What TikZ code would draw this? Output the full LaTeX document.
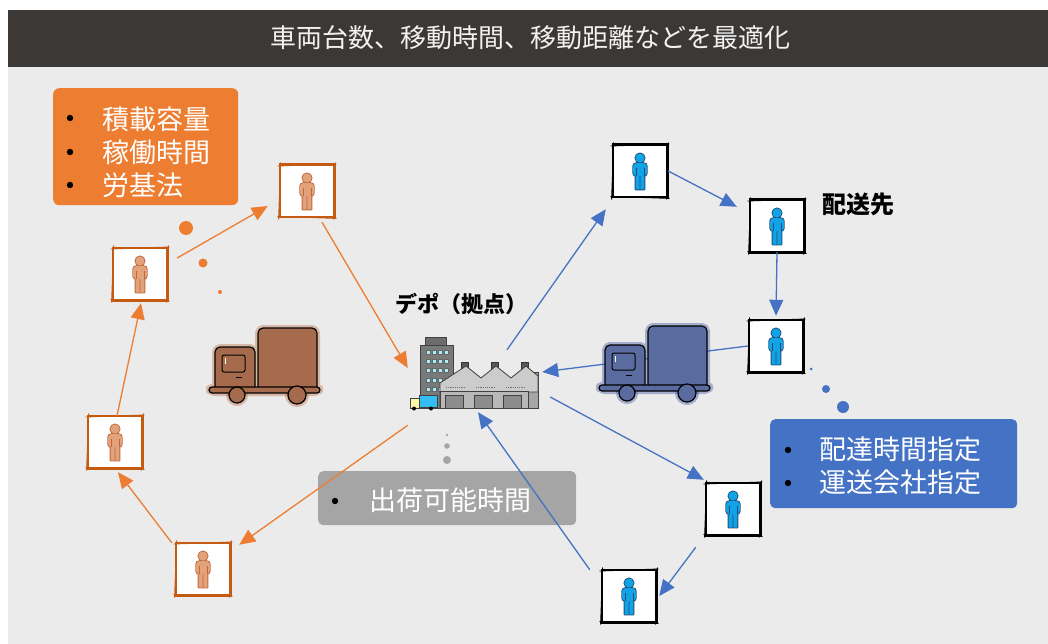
\documentclass[tikz,border=0pt]{standalone}
\usepackage{fontspec}
\setmainfont{Noto Sans CJK JP}
\usetikzlibrary{arrows.meta,calc}

\definecolor{hdr}{HTML}{3B3836}
\definecolor{hdrtext}{HTML}{F2F2F2}
\definecolor{panel}{HTML}{EBEBEB}
\definecolor{orng}{HTML}{ED7D31}
\definecolor{orngdk}{HTML}{C55A11}
\definecolor{blu}{HTML}{4472C4}
\definecolor{gry}{HTML}{A5A5A5}
\definecolor{tanfill}{HTML}{E2A27C}
\definecolor{tanline}{HTML}{C0683A}
\definecolor{skyfill}{HTML}{12A2E6}
\definecolor{skyline}{HTML}{1F4E79}
\definecolor{brwn}{HTML}{A66B4C}
\definecolor{brwnhalo}{HTML}{C07A55}
\definecolor{navytruck}{HTML}{5A6C9F}
\definecolor{navyhalo}{HTML}{4F64A8}
\definecolor{winblue}{HTML}{A8F0F8}

% person figure inside an icon frame: #1 node, #2 fill, #3 outline
\newcommand\figperson[3]{%
  \begin{scope}[shift={(#1)}]
    \draw[#3,line width=1.8pt,line join=round]
      (0,-13) circle[radius=4.6]
      [rounded corners=3pt] (-6.8,-7.8) rectangle (6.8,5)
      [sharp corners] (-4.4,2) rectangle (-0.3,18.5) (0.3,2) rectangle (4.4,18.5);
    \fill[#2]
      (0,-13) circle[radius=4.6]
      [rounded corners=3pt] (-6.8,-7.8) rectangle (6.8,5)
      [sharp corners] (-4.4,2) rectangle (-0.3,18.5) (0.3,2) rectangle (4.4,18.5);
    \draw[#3,line width=0.6pt] (-4.2,-3) -- (-4.2,5) (4.2,-3) -- (4.2,5);
  \end{scope}}

% hand-drawn looking frame round an icon node: #1 node, #2 colour
\newcommand\sketchframe[2]{%
  \draw[#2,line width=2.6pt] (#1.north west) rectangle (#1.south east);
  \draw[#2,line width=0.9pt,line cap=round]
    ([shift={(-2,1.2)}]#1.north west) -- ([shift={(2,-0.8)}]#1.north east)
    ([shift={(1.2,-2)}]#1.north east) -- ([shift={(-0.8,2)}]#1.south east)
    ([shift={(2,1.2)}]#1.south east) -- ([shift={(-2,-0.8)}]#1.south west)
    ([shift={(-1.2,2)}]#1.south west) -- ([shift={(0.8,-2)}]#1.north west);}

% delivery truck: #1 origin, #2 body colour, #3 halo colour
\newcommand\drawtruck[3]{%
  \begin{scope}[shift={#1}]
    \draw[#3,line width=6pt,opacity=.45,line join=round,rounded corners=5pt]
      (49,1) rectangle (108,65) (6,20) rectangle (46,65) (0,59) rectangle (111,66);
    \draw[#3,line width=6pt,opacity=.45] (28,68) circle[radius=8] (88,68) circle[radius=9];
    \filldraw[fill=#2,draw=black,line width=1.2pt,rounded corners=5pt]
      (49,1) rectangle (108,65) (6,20) rectangle (46,65);
    \filldraw[fill=#2,draw=black,line width=1.2pt,rounded corners=3pt] (0,60) rectangle (111,66);
    \filldraw[fill=#2,draw=black,line width=1.2pt] (28,68) circle[radius=8] (88,68) circle[radius=9];
    \draw[black,line width=1pt,rounded corners=2pt] (13,28) rectangle (36,45);
    \draw[white,line width=0.8pt] (16,31) -- (16,37);
    \draw[black,line width=1pt] (27,50) -- (33,50);
  \end{scope}}

\begin{document}
\begin{tikzpicture}[x=1pt,y=-1pt,
  iconbox/.style={rectangle,fill=white,minimum width=54pt,minimum height=52pt,inner sep=0pt},
  oarr/.style={draw=orng,line width=1.3pt,-{Triangle[length=16pt,width=14pt]}},
  barr/.style={draw=blu,line width=1.3pt,-{Triangle[length=16pt,width=14pt]}},
  listbox/.style={rectangle,rounded corners=6pt,inner sep=0pt,anchor=north west},
  listtext/.style={text=white,anchor=west,align=left,inner sep=0pt,font=\fontsize{27}{33}\selectfont},
  bullet/.style={fill=black},
  ]
\useasboundingbox (0,0) rectangle (1048,644);
\fill[white] (0,0) rectangle (1048,644);
\fill[panel] (8,67) rectangle (1048,644);

% title bar
\fill[hdr] (8,10) rectangle (1048,67);
\node[text=hdrtext,font=\fontsize{26}{30}\selectfont] (title) at (530,38)
  {車両台数、移動時間、移動距離などを最適化};

% constraint boxes
\node[listbox,fill=orng,minimum width=185pt,minimum height=117pt] (vehicle) at (53,88) {};
\node[listtext] (vehicletext) at (102,152) {積載容量\\稼働時間\\労基法};
\foreach \yy in {118,152,185} \fill[bullet] (70,\yy) circle[radius=3.2];

\node[listbox,fill=blu,minimum width=247pt,minimum height=89pt,rounded corners=5pt] (dest) at (770,419) {};
\node[listtext] (desttext) at (819,466) {配達時間指定\\運送会社指定};
\foreach \yy in {450,483} \fill[bullet] (788,\yy) circle[radius=3.2];

\node[listbox,fill=gry,minimum width=258pt,minimum height=54pt,rounded corners=5pt] (depotbox) at (318,471) {};
\node[listtext] (depottext) at (369,500) {出荷可能時間};
\fill[bullet] (335,501) circle[radius=3.2];

% depot (area node for the connectors)
\node[rectangle,minimum width=134pt,minimum height=72pt,inner sep=0pt] (depot) at (475,376) {};
\node[font=\bfseries\fontsize{22}{26}\selectfont] (depotlabel) at (461,304) {デポ（拠点）};

% office tower
\filldraw[fill=gray!85!black,draw=black!75,line width=0.8pt] (425,337) rectangle (446,346);
\filldraw[fill=gray!95!black,draw=black!75,line width=0.8pt] (420,345) rectangle (453,408);
\foreach \yy in {350,359,368,378,387}
  \foreach \xx in {426,432,438,444}
    \filldraw[fill=winblue,draw=black!60,line width=0.3pt] (\xx,\yy) rectangle ++(4.5,4);
% factory hall
\foreach \xx in {461,491,521} \filldraw[fill=black!65,draw=black!80,line width=0.6pt] (\xx,362) rectangle ++(7,10);
\filldraw[fill=black!35,draw=black!75,line width=0.8pt] (528,372) rectangle (538,408);
\filldraw[fill=black!20,draw=black!75,line width=0.8pt,line join=round]
  (440,408) -- (440,383) -- (466,366) -- (481,378) -- (496,366) -- (511,378) -- (526,366) -- (538,376)
  -- (538,392) -- (528,392) -- (528,408) -- cycle;
\foreach \xx in {446,476,506} \draw[black!55,line width=1pt,dash pattern=on 1.2pt off 1pt] (\xx,387) -- ++(18,0);
\filldraw[fill=black!28,draw=black!75,line width=0.8pt] (440,391) rectangle (528,408);
\foreach \xx in {445,474,503} \filldraw[fill=black!45,draw=black!75,line width=0.7pt] (\xx,395) rectangle ++(18,13);
% small van in front of the depot
\filldraw[fill=yellow!35,draw=black!75,line width=0.6pt] (410,398) rectangle (419,408);
\filldraw[fill=cyan!80,draw=black!75,line width=0.6pt] (419,395) rectangle (437,407);
\fill[black] (414,408.5) circle[radius=2] (431,408.5) circle[radius=2];

% pick-up points of the left tour
\node[iconbox] (p1) at (307,191) {};
\node[iconbox] (p2) at (140,274) {};
\node[iconbox] (p3) at (115,442) {};
\node[iconbox] (p4) at (203,569) {};
% delivery points of the right tour
\node[iconbox] (b1) at (640,171) {};
\node[iconbox] (b2) at (777,226) {};
\node[iconbox] (b3) at (776,346) {};
\node[iconbox] (b4) at (733,509) {};
\node[iconbox] (b5) at (629,596) {};

\foreach \n in {p1,p2,p3,p4} {\sketchframe{\n}{orngdk}\figperson{\n}{tanfill}{tanline}}
\foreach \n in {b1,b2,b3,b4,b5} {\sketchframe{\n}{black}\figperson{\n}{skyfill}{skyline}}

\node[font=\bfseries\fontsize{24}{28}\selectfont] (destlabel) at (858,204) {配送先};

% left tour
\draw[oarr] ([xshift=10pt,yshift=16pt]p2.east) -- ([xshift=-12pt,yshift=-15pt]p1.west);
\draw[oarr] ([xshift=15pt,yshift=-5pt]p1.south) -- ([yshift=8pt]depot.west);
\draw[oarr] ([yshift=-13pt]depot.south west) -- ([xshift=9pt,yshift=-2pt]p4.north east);
\draw[oarr] ([xshift=-4pt]p4.north west) -- ([xshift=3pt,yshift=-4pt]p3.south);
\draw[oarr] ([xshift=2pt]p3.north) -- ([xshift=1pt,yshift=-3pt]p2.south);

% right tour
\draw[barr] ([xshift=32pt,yshift=-10pt]depot.north) -- ([xshift=-7pt,yshift=-12pt]b1.south west);
\draw[barr] ([xshift=1pt]b1.east) -- ([xshift=-13pt,yshift=-7pt]b2.north west);
\draw[barr] (b2.south) -- ([yshift=4pt]b3.north);
\draw[barr] ([xshift=-1pt]b3.west) -- ([yshift=4pt]depot.east);
\draw[barr] ([xshift=8pt,yshift=-21pt]depot.east) -- ([xshift=-2pt,yshift=3pt]b4.north west);
\draw[barr] ([xshift=-10pt,yshift=-12pt]b4.south west) -- ([xshift=3pt]b5.east);
\draw[barr] ([xshift=-12pt]b5.north west) -- ([xshift=3pt]depot.south);

% trucks
\drawtruck{(209,327)}{brwn}{brwnhalo}
\drawtruck{(599,325)}{navytruck}{navyhalo}

% trailing dots
\fill[orng] (186,228) circle[radius=7] (203,263) circle[radius=4.5] (220,292) circle[radius=2];
\fill[blu] (811,369) circle[radius=1.5] (826,389) circle[radius=4] (843,407) circle[radius=6];
\fill[gry] (447,435) circle[radius=1.3] (447,446) circle[radius=2.8] (447,460) circle[radius=4];
\end{tikzpicture}
\end{document}
